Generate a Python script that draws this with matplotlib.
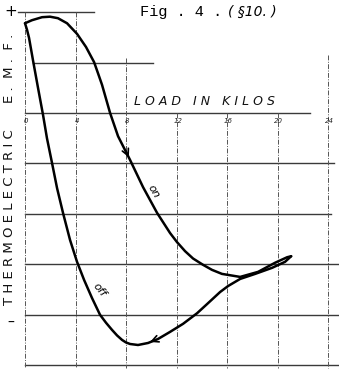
import numpy as np
import matplotlib
matplotlib.use("Agg")
import matplotlib.pyplot as plt

# load (kilos) and thermo-electric e.m.f. (grid units) while loading
load_on = [0.0, 0.55, 1.35, 1.98, 2.61, 3.33, 4.12, 4.83, 5.47, 5.78, 6.1,
           6.42, 6.74, 7.37, 8.32, 9.35, 10.46, 11.49, 12.04, 12.68, 13.31,
           14.1, 14.81, 15.6, 17.04, 18.46, 19.8, 20.76, 21.08]
emf_on = [1.78, 1.84, 1.90, 1.91, 1.88, 1.78, 1.57, 1.31, 1.01, 0.79, 0.56,
          0.28, 0.0, -0.46, -0.93, -1.47, -1.98, -2.38, -2.56, -2.74, -2.885,
          -3.01, -3.11, -3.19, -3.25, -3.15, -2.97, -2.86, -2.84]

# unloading, back from the tip of the loop to the start
load_off = [21.08, 20.6, 19.57, 18.23, 17.04, 16.09, 15.45, 14.5, 13.63,
            12.52, 11.49, 10.54, 9.75, 8.95, 8.32, 8.0, 7.69, 7.29, 6.89,
            6.42, 5.94, 5.31, 4.68, 4.12, 3.57, 3.01, 2.54, 2.14, 1.74, 1.43,
            1.03, 0.63, 0.32, 0.16, 0.0]
emf_off = [-2.84, -2.95, -3.07, -3.19, -3.29, -3.43, -3.55, -3.77, -3.97,
           -4.18, -4.34, -4.48, -4.56, -4.6, -4.58, -4.55, -4.5, -4.41, -4.3,
           -4.16, -4.0, -3.67, -3.31, -2.95, -2.52, -1.98, -1.49, -0.99, -0.5,
           -0.04, 0.5, 1.05, 1.49, 1.65, 1.78]

load_ticks = [0, 4, 8, 12, 16, 20, 24]
tick_labels = ["0", "4", "8", "12", "16", "20", "24"]

fig = plt.figure(figsize=(3.39, 3.69), dpi=100)
ax = fig.add_axes([0, 0, 1, 1])
ax.set_xlim(-1.98, 24.87)
ax.set_ylim(-5.076, 2.241)
ax.axis("off")

# ruled lines across (emf levels) with their drawn extents
hrules = [(2, -0.55, 5.5), (1, 0.63, 10.1), (0, 0, 22.6), (-1, 0, 24.5),
          (-2, 0, 24.2), (-3, 0, 24.8), (-4, 0, 24.8), (-5, 0, 24.9)]
for yv, x0, x1 in hrules:
    ax.plot([x0, x1], [yv, yv], color="#3a3a3a", lw=1.0, zorder=1)

# dash-dot verticals at the load marks
vtops = {0: 2, 4: 2, 8: 1.1, 12: 0, 16: 0, 20: 0, 24: 1.15}
for xv in load_ticks:
    ax.plot([xv, xv], [vtops[xv], -5.05], color="#555555", lw=0.7,
            linestyle=(0, (5, 1.5, 1, 1.5)), zorder=1)

for xv, lab in zip(load_ticks, tick_labels):
    ax.text(xv + 0.1, -0.1, lab, fontsize=5, style="italic", ha="center",
            va="top", color="#222222")

ax.text(8.6, 0.1, "L O A D   I N   K I L O S", fontsize=9, style="italic",
        ha="left", va="bottom", color="#111111")

# the e.m.f. curve
ax.plot(load_on, emf_on, color="black", lw=1.8, solid_joinstyle="round",
        solid_capstyle="round", zorder=3)
ax.plot(load_off, emf_off, color="black", lw=1.8, solid_joinstyle="round",
        solid_capstyle="round", zorder=3)

# direction arrows
ax.annotate("", xy=(8.32, -0.93), xytext=(7.9, -0.7),
            arrowprops=dict(arrowstyle="->", color="black", lw=1.2,
                            mutation_scale=12))
ax.annotate("", xy=(9.7, -4.56), xytext=(10.5, -4.48),
            arrowprops=dict(arrowstyle="->", color="black", lw=1.2,
                            mutation_scale=12))

ax.text(10.2, -1.55, "on", fontsize=8, style="italic", rotation=-60,
        ha="center", va="center")
ax.text(5.85, -3.5, "off", fontsize=8, style="italic", rotation=-52,
        ha="center", va="center")

# axis legend down the left side
fig.text(10 / 339, 1 - 217 / 369, "T H E R M O E L E C T R I C",
         rotation=90, fontsize=9.5, ha="center", va="center",
         color="#111111")
fig.text(10 / 339, 1 - 68 / 369, "E .  M .  F .", rotation=90, fontsize=9.5,
         ha="center", va="center", color="#111111")
fig.text(11 / 339, 1 - 12 / 369, "+", fontsize=11, ha="center", va="center")
fig.text(11 / 339, 1 - 323 / 369, "\u2013", fontsize=10, ha="center",
         va="center")

fig.text(140 / 339, 1 - 12 / 369, "Fig . 4 .", family="Liberation Mono",
         fontsize=11, ha="left", va="center")
fig.text(228 / 339, 1 - 12 / 369, "( §10. )", fontsize=10, style="italic",
         ha="left", va="center")

fig.savefig("out.png", dpi=100, facecolor="white")
